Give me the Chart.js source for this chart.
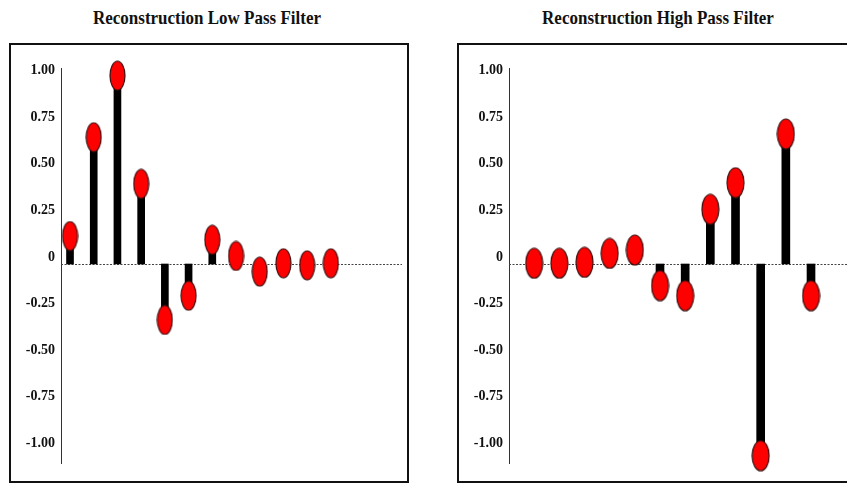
<!DOCTYPE html>
<html>
<head>
<meta charset="utf-8">
<script src="https://cdn.jsdelivr.net/npm/chart.js@4.4.1/dist/chart.umd.min.js"></script>
<style>
  html, body { margin: 0; padding: 0; background: #fff; width: 847px; height: 483px; overflow: hidden; }
  .box { position: absolute; top: 43px; height: 440px; border: 2px solid #111; box-sizing: border-box; }
  .title { position: absolute; top: 8px; font: bold 17px "Liberation Serif", "Times New Roman", serif; color: #111; white-space: nowrap; transform: translateX(-50%) scaleY(1.12); }
  canvas { position: absolute; top: 0; }
</style>
</head>
<body>
<div class="box" style="left:9px; width:400px;"></div>
<div class="box" style="left:457px; width:460px;"></div>
<div class="title" style="left:207px;">Reconstruction Low Pass Filter</div>
<div class="title" style="left:658px;">Reconstruction High Pass Filter</div>
<canvas id="lowPass" width="420" height="483" style="left:0;"></canvas>
<canvas id="highPass" width="427" height="483" style="left:420px;"></canvas>
<script>
// sample index n and the coefficient values
const samples = [1, 2, 3, 4, 5, 6, 7, 8, 9, 10, 11, 12];
const lowPassValues = [0.15, 0.68, 1.01, 0.43, -0.30, -0.17, 0.13, 0.043, -0.041, 0.004, -0.007, 0.004];
const highPassValues = [0.004, 0.004, 0.009, 0.057, 0.075, -0.116, -0.17, 0.293, 0.436, -1.028, 0.697, -0.17];

// y axis ticks
const tickValues = [-1, -0.75, -0.5, -0.25, 0, 0.25, 0.5, 0.75, 1];
const tickLabels = ["-1.00", "-0.75", "-0.50", "-0.25", "0", "0.25", "0.50", "0.75", "1.00"];

// red oval used as the stem head
function ellipseMarker(w, h) {
  const c = document.createElement("canvas");
  c.width = w + 2;
  c.height = h + 2;
  const g = c.getContext("2d");
  g.beginPath();
  g.ellipse(c.width / 2, c.height / 2, w / 2, h / 2, 0, 0, Math.PI * 2);
  g.fillStyle = "#ff0000";
  g.fill();
  g.lineWidth = 1.2;
  g.strokeStyle = "#3a1010";
  g.stroke();
  return c;
}

// dashed zero line across the plot
const zeroLine = {
  id: "zeroLine",
  beforeDatasetsDraw(chart) {
    const { ctx, chartArea, scales } = chart;
    const y = Math.round(scales.y.getPixelForValue(0)) + 0.5;
    ctx.save();
    ctx.strokeStyle = "#444";
    ctx.lineWidth = 1;
    ctx.setLineDash([2, 1.5]);
    ctx.beginPath();
    ctx.moveTo(chartArea.left, y);
    ctx.lineTo(chartArea.right, y);
    ctx.stroke();
    ctx.restore();
  },
};

function drawPanel(id, values, o) {
  const points = samples.map((n, i) => ({ x: n, y: values[i] }));
  new Chart(document.getElementById(id), {
    type: "scatter",
    data: {
      datasets: [
        {
          type: "scatter",
          data: points,
          pointStyle: ellipseMarker(o.markerW, o.markerH),
          pointRadius: o.markerH / 2,
          clip: false,
          order: 0,
        },
        {
          type: "bar",
          data: points,
          backgroundColor: "#000",
          barThickness: o.stem,
          order: 1,
        },
      ],
    },
    options: {
      responsive: false,
      animation: false,
      events: [],
      layout: { autoPadding: false, padding: { top: 68, bottom: 20, left: 0, right: o.padRight } },
      plugins: { legend: { display: false }, tooltip: { enabled: false } },
      scales: {
        x: { type: "linear", min: o.xMin, max: o.xMax, offset: false, display: false },
        y: {
          type: "linear",
          min: -1.067,
          max: 1.051,
          afterBuildTicks: (s) => {
            s.ticks = tickValues.map((v) => ({ value: v }));
          },
          afterFit: (s) => {
            s.width = o.axisW;
          },
          grid: { display: false, drawTicks: false },
          border: { display: true, color: "#333", width: 1 },
          ticks: {
            callback: (v, i) => tickLabels[i],
            font: { family: '"Liberation Serif", "Times New Roman", serif', weight: "bold", size: 14 },
            color: "#111",
            padding: 6,
            labelOffset: -7,
          },
        },
      },
    },
    plugins: [zeroLine],
  });
}

drawPanel("lowPass", lowPassValues, {
  xMin: 0.62, xMax: 15, axisW: 61, padRight: 18, markerW: 15, markerH: 29, stem: 7,
});
drawPanel("highPass", highPassValues, {
  xMin: 0, xMax: 13.43, axisW: 89, padRight: 0, markerW: 17, markerH: 30, stem: 8,
});
</script>
</body>
</html>
